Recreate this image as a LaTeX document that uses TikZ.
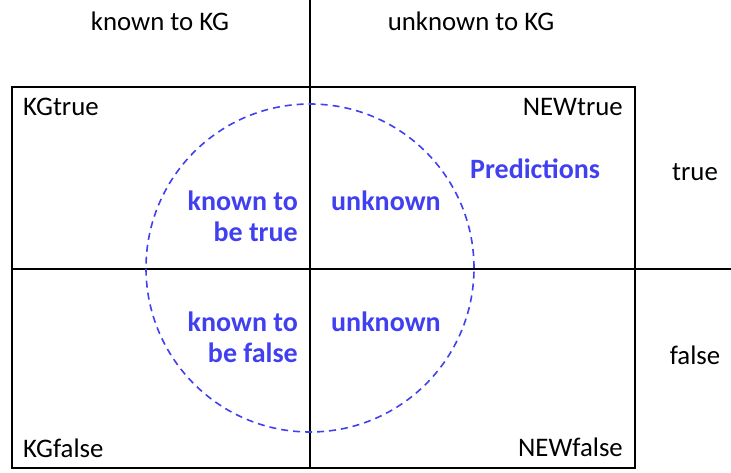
\documentclass[tikz,border=0pt]{standalone}
\usepackage{fontspec}
\setmainfont{Carlito}
\definecolor{predblue}{RGB}{64,64,240}
\begin{document}
\begin{tikzpicture}[x=1pt,y=-1pt,
  rule/.style={draw=black,line width=1.3pt},
  lab/.style={inner sep=0pt,font=\fontsize{26.8}{30}\selectfont},
  blab/.style={inner sep=0pt,text=predblue,font=\fontsize{28}{31}\selectfont\bfseries},
  predcirc/.style={draw=predblue,line width=1.6pt,dash pattern=on 7pt off 5pt}]
\useasboundingbox (0,0) rectangle (731,473);
% box and dividers
\draw[rule] (12,87) rectangle (635,468);
\coordinate (vt) at (310,0);
\coordinate (vb) at (310,468);
\coordinate (hl) at (12,269);
\coordinate (hr) at (731,269);
\draw[rule] (vt) -- (vb);
\draw[rule] (hl) -- (hr);
% circle
\node[predcirc,circle,minimum size=328pt,inner sep=0pt] (pc) at (310,268) {};
% headers
\node[lab,anchor=base] (k) at (160,31) {known to KG};
\node[lab,anchor=base] (u) at (471,31) {unknown to KG};
\node[lab,anchor=base] (t) at (695,181) {true};
\node[lab,anchor=base] (f) at (695,364) {false};
% corners
\node[lab,anchor=base west] (kgt) at (23,116) {KGtrue};
\node[lab,anchor=base east] (nt) at (623,116) {NEWtrue};
\node[lab,anchor=base west] (kgf) at (23,457) {KGfalse};
\node[lab,anchor=base east] (nf) at (623,456) {NEWfalse};
% blue labels
\node[blab,anchor=base east,align=right] (kt) at (298,241.5) {known to\\be true};
\node[blab,anchor=base west] (ut) at (331,210.5) {unknown};
\node[blab,anchor=base east,align=right] (kf) at (298,362.5) {known to\\be false};
\node[blab,anchor=base west] (uf) at (331,331.5) {unknown};
\node[blab,anchor=base west] (pr) at (470,178.5) {Predictions};
\end{tikzpicture}
\end{document}
